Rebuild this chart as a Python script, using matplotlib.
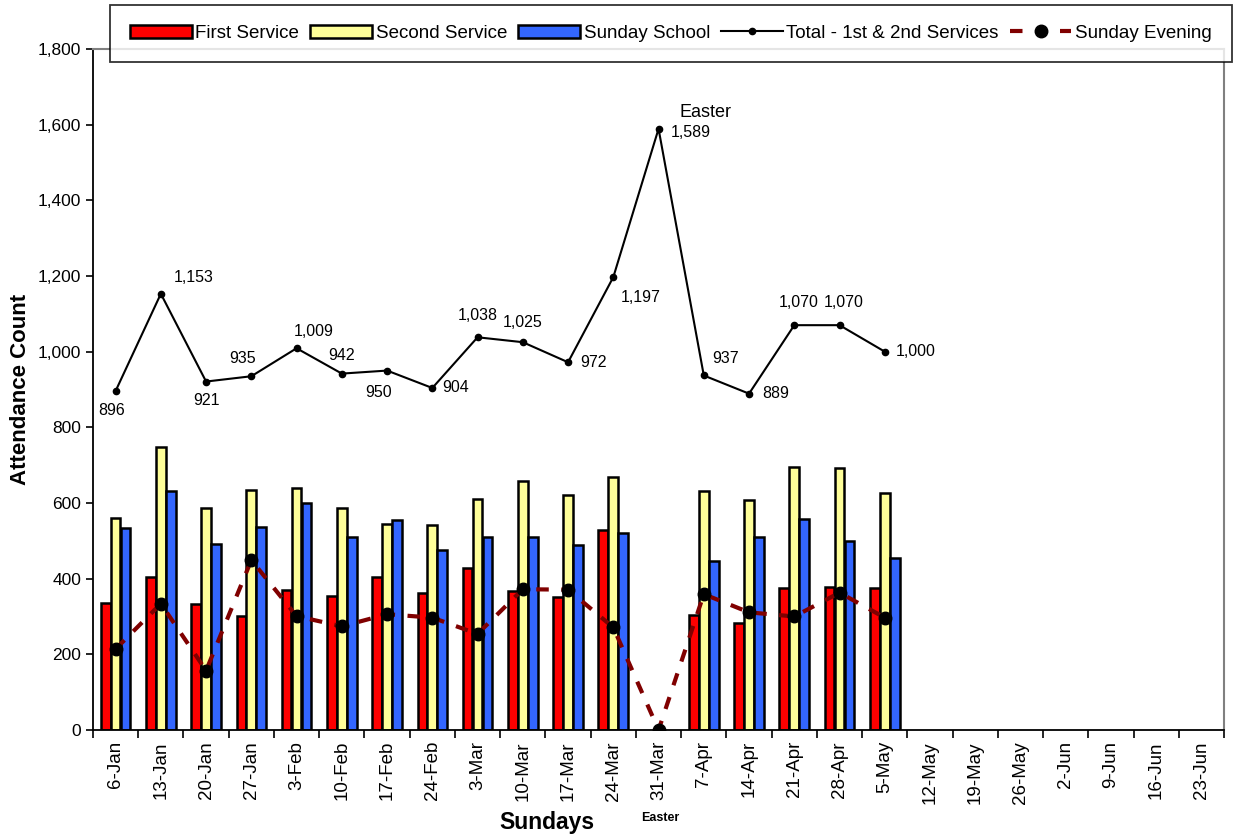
import numpy as np
import matplotlib
matplotlib.use("Agg")
import matplotlib.pyplot as plt
from matplotlib.ticker import FuncFormatter

plt.rcParams["font.family"] = ["Liberation Sans", "DejaVu Sans"]

sundays = ["6-Jan", "13-Jan", "20-Jan", "27-Jan", "3-Feb", "10-Feb", "17-Feb", "24-Feb",
           "3-Mar", "10-Mar", "17-Mar", "24-Mar", "31-Mar", "7-Apr", "14-Apr", "21-Apr",
           "28-Apr", "5-May", "12-May", "19-May", "26-May", "2-Jun", "9-Jun", "16-Jun", "23-Jun"]

# only first 18 sundays have data
first_service = [335, 405, 333, 301, 369, 354, 405, 362, 427, 367, 351, 528, np.nan, 305, 282, 375, 378, 374]
second_service = [561, 748, 588, 634, 640, 588, 545, 542, 611, 658, 621, 669, np.nan, 632, 607, 695, 692, 626]
sunday_school = [533, 632, 492, 537, 600, 510, 556, 475, 510, 510, 489, 520, np.nan, 447, 510, 559, 500, 455]
total_12 = [896, 1153, 921, 935, 1009, 942, 950, 904, 1038, 1025, 972, 1197, 1589, 937, 889, 1070, 1070, 1000]
evening = [214, 334, 157, 449, 301, 274, 306, 297, 254, 372, 371, 271, 0, 359, 311, 300, 363, 297]

# label offsets (points) for the total line
label_off = [(-3, -14), (24, 12), (0, -14), (-6, 13), (12, 12), (0, 13), (-6, -16), (17, 0),
             (0, 16), (0, 14), (18, 0), (20, -15), (23, -3), (16, 12), (19, 0), (3, 16), (3, 16), (22, 0)]

fig = plt.figure(figsize=(12.38, 8.36), dpi=100)
ax = fig.add_axes([0.0751, 0.1268, 0.9137, 0.8146])

n = len(sundays)
x = np.arange(len(first_service))
w = 0.215

b1 = ax.bar(x - 0.22, first_service, w, color="#ff0000", edgecolor="black", linewidth=1.8, label="First Service", zorder=2)
b2 = ax.bar(x, second_service, w, color="#ffff99", edgecolor="black", linewidth=1.8, label="Second Service", zorder=2)
b3 = ax.bar(x + 0.22, sunday_school, w, color="#3366ff", edgecolor="black", linewidth=1.8, label="Sunday School", zorder=2)

l1, = ax.plot(x, total_12, color="black", linewidth=1.5, marker="o", markersize=4.5,
              label="Total - 1st & 2nd Services", zorder=4)
l2, = ax.plot(x, evening, color="#800000", linewidth=3, linestyle=(0, (3, 3)), marker="o",
              markersize=9, markerfacecolor="black", markeredgecolor="black",
              label="Sunday Evening", zorder=3)

for i, v in enumerate(total_12):
    dx, dy = label_off[i]
    ax.annotate(f"{v:,}", (x[i], v), xytext=(dx, dy), textcoords="offset points",
                ha="center", va="center", fontsize=11.5)

ax.annotate("Easter", (x[12], total_12[12]), xytext=(34, 12), textcoords="offset points",
            ha="center", va="center", fontsize=13)

ax.set_xlim(-0.5, n - 0.5)
ax.set_ylim(0, 1800)
ax.set_yticks(range(0, 1801, 200))
ax.yaxis.set_major_formatter(FuncFormatter(lambda v, p: f"{int(v):,}"))
ax.set_xticks(np.arange(n))
ax.set_xticklabels(sundays, rotation=90, fontsize=13.5)
ax.set_xticks(np.arange(n + 1) - 0.5, minor=True)
ax.tick_params(axis="x", which="major", length=0, pad=8)
ax.tick_params(axis="x", which="minor", length=6, width=1.2, direction="out")
ax.tick_params(axis="y", labelsize=12.5, length=5, width=1.2, direction="out")

ax.spines["left"].set_linewidth(1.3)
ax.spines["bottom"].set_linewidth(1.3)
ax.spines["top"].set_color("#808080")
ax.spines["right"].set_color("#808080")
ax.spines["top"].set_linewidth(1.5)
ax.spines["right"].set_linewidth(1.5)

ax.set_ylabel("Attendance Count", fontsize=16, fontweight="bold", labelpad=5)
fig.text(547 / 1238, 1 - 822 / 836, "Sundays", fontsize=16.5, fontweight="bold", ha="center", va="center")
fig.text(660 / 1238, 1 - 818 / 836, "Easter", fontsize=9, fontweight="bold", ha="center", va="center")

leg = fig.legend([b1, b2, b3, l1, l2],
                 ["First Service", "Second Service", "Sunday School", "Total - 1st & 2nd Services", "Sunday Evening"],
                 loc="center", bbox_to_anchor=(0.0889, 0.926, 0.906, 0.068), mode="expand", ncol=5,
                 fontsize=13.5, frameon=True, fancybox=False, edgecolor="black",
                 handlelength=3.3, handletextpad=0.2, columnspacing=1.0, borderaxespad=0, borderpad=1.05)
leg.get_frame().set_linewidth(1.3)

fig.savefig("out.png", dpi=100)
